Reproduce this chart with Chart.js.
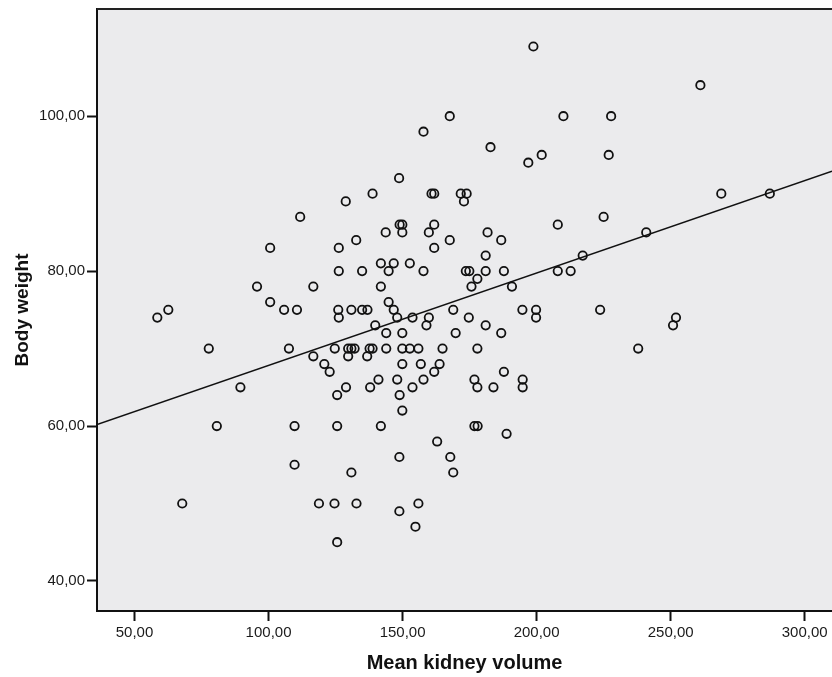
<!DOCTYPE html>
<html>
<head>
<meta charset="utf-8">
<script src="https://cdn.jsdelivr.net/npm/chart.js@4/dist/chart.umd.min.js"></script>
<style>
  html, body { margin: 0; padding: 0; background: #fff; }
  #wrap { width: 832px; height: 677px; }
</style>
</head>
<body>
<div id="wrap"><canvas id="scatter" width="832" height="677"></canvas></div>
<script>
// values
const kidneyVolume = [
  198.8, 167.6, 210.0, 157.8, 182.8, 201.9, 196.9, 148.7, 138.8, 160.8,
  161.8, 171.7, 173.9, 172.9, 128.8, 261.1, 227.8, 226.9, 268.9, 287.0,
  225.0, 240.9, 217.2, 223.7, 252.0, 250.9, 237.9, 111.8, 100.6, 126.2,
  126.2, 95.7, 116.7, 100.6, 105.8, 110.6, 62.6, 58.5, 126.0, 126.2,
  77.7, 107.6, 124.7, 116.7, 120.8, 122.8, 89.5, 125.6, 80.7, 109.7,
  125.6, 109.7, 67.8, 118.8, 124.6, 125.6, 148.9, 149.9, 161.8, 207.9,
  143.7, 149.9, 159.8, 181.7, 132.7, 167.6, 186.8, 161.8, 181.0, 141.9,
  146.7, 152.7, 134.9, 144.8, 157.8, 173.6, 174.9, 181.0, 187.8, 207.9,
  212.7, 177.9, 175.7, 141.9, 190.8, 144.8, 146.7, 130.9, 134.9, 136.9,
  194.7, 199.8, 199.8, 148.0, 153.7, 159.8, 168.9, 174.7, 158.9, 139.8,
  181.0, 143.9, 149.9, 169.8, 186.8, 129.7, 130.9, 132.1, 129.7, 137.7,
  138.8, 136.8, 143.9, 149.9, 152.7, 155.9, 164.9, 177.9, 149.9, 156.8,
  163.8, 161.8, 187.8, 141.0, 148.0, 157.8, 176.8, 194.8, 128.9, 137.9,
  153.7, 177.9, 183.9, 194.8, 148.9, 149.9, 141.9, 176.8, 178.0, 188.8,
  162.9, 148.8, 167.8, 130.9, 168.9, 132.8, 155.9, 148.8, 154.8
];
const bodyWeight = [
  109, 100, 100, 98, 96, 95, 94, 92, 90, 90,
  90, 90, 90, 89, 89, 104, 100, 95, 90, 90,
  87, 85, 82, 75, 74, 73, 70, 87, 83, 83,
  80, 78, 78, 76, 75, 75, 75, 74, 75, 74,
  70, 70, 70, 69, 68, 67, 65, 64, 60, 60,
  60, 55, 50, 50, 50, 45, 86, 86, 86, 86,
  85, 85, 85, 85, 84, 84, 84, 83, 82, 81,
  81, 81, 80, 80, 80, 80, 80, 80, 80, 80,
  80, 79, 78, 78, 78, 76, 75, 75, 75, 75,
  75, 75, 74, 74, 74, 74, 75, 74, 73, 73,
  73, 72, 72, 72, 72, 70, 70, 70, 69, 70,
  70, 69, 70, 70, 70, 70, 70, 70, 68, 68,
  68, 67, 67, 66, 66, 66, 66, 66, 65, 65,
  65, 65, 65, 65, 64, 62, 60, 60, 60, 59,
  58, 56, 56, 54, 54, 50, 50, 49, 47
];
// fit line end points
const fitX = [36.0, 310.2];
const fitY = [60.2, 92.9];

const xTicks = [50, 100, 150, 200, 250, 300];
const yTicks = [40, 60, 80, 100];
const xRange = [36.0, 310.2];
const yRange = [36.12, 113.84];

const points = kidneyVolume.map((v, i) => ({ x: v, y: bodyWeight[i] }));
const fitLine = fitX.map((v, i) => ({ x: v, y: fitY[i] }));

const fmt = v => Number(v).toFixed(2).replace('.', ',');
const tickFont = { family: 'Liberation Sans, Arial, sans-serif', size: 15 };
const fontFamily = 'Liberation Sans, Arial, sans-serif';

const plotFrame = {
  id: 'plotFrame',
  beforeDraw(chart) {
    const { ctx, chartArea: a } = chart;
    ctx.save();
    ctx.fillStyle = '#ebebed';
    ctx.fillRect(a.left, a.top, a.right - a.left, a.bottom - a.top);
    ctx.restore();
  },
  afterDraw(chart) {
    const { ctx, chartArea: a } = chart;
    ctx.save();
    ctx.strokeStyle = '#222';
    ctx.lineWidth = 2;
    ctx.beginPath();
    ctx.moveTo(a.left, a.top);
    ctx.lineTo(a.right, a.top);
    ctx.stroke();
    ctx.restore();
  }
};

new Chart(document.getElementById('scatter'), {
  type: 'scatter',
  data: {
    datasets: [
      {
        data: points,
        pointRadius: 4.2,
        pointHoverRadius: 4.2,
        pointBorderWidth: 1.8,
        borderColor: '#111',
        backgroundColor: 'rgba(0,0,0,0)',
        order: 2
      },
      {
        type: 'line',
        data: fitLine,
        borderColor: '#111',
        borderWidth: 1.5,
        pointRadius: 0,
        fill: false,
        order: 1
      }
    ]
  },
  options: {
    responsive: false,
    devicePixelRatio: 1,
    animation: false,
    layout: { autoPadding: false, padding: { top: 9, right: 0, bottom: 0, left: 0 } },
    plugins: { legend: { display: false }, tooltip: { enabled: false } },
    scales: {
      x: {
        type: 'linear',
        min: xRange[0],
        max: xRange[1],
        afterBuildTicks: s => { s.ticks = xTicks.map(v => ({ value: v })); },
        afterFit: s => { s.height = 66; s.paddingLeft = 0; s.paddingRight = 0; },
        ticks: { font: tickFont, color: '#1a1a1a', padding: 3, maxRotation: 0, callback: fmt },
        grid: { drawOnChartArea: false, drawTicks: true, tickLength: 10, tickWidth: 2, color: '#111' },
        border: { display: true, color: '#111', width: 2 },
        title: { display: true, text: 'Mean kidney volume', font: { family: fontFamily, size: 20, weight: 'bold' }, color: '#111', padding: { top: 4, bottom: 2 } }
      },
      y: {
        type: 'linear',
        min: yRange[0],
        max: yRange[1],
        afterBuildTicks: s => { s.ticks = yTicks.map(v => ({ value: v })); },
        afterFit: s => { s.width = 97; s.paddingTop = 0; s.paddingBottom = 0; },
        ticks: { font: tickFont, color: '#1a1a1a', padding: 2, callback: fmt },
        grid: { drawOnChartArea: false, drawTicks: true, tickLength: 10, tickWidth: 2, color: '#111' },
        border: { display: true, color: '#111', width: 2 },
        title: { display: true, text: 'Body weight', font: { family: fontFamily, size: 19, weight: 'bold' }, color: '#111', padding: { top: 11, bottom: 0 } }
      }
    }
  },
  plugins: [plotFrame]
});
</script>
</body>
</html>
